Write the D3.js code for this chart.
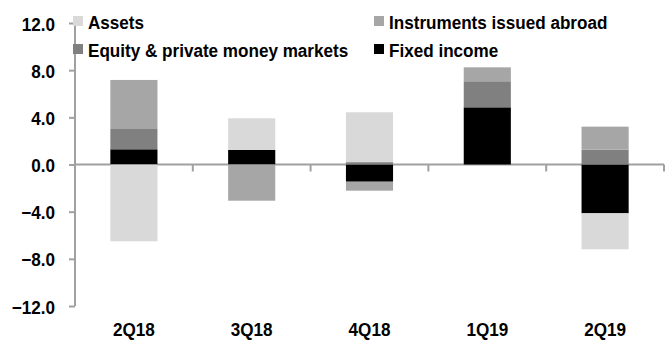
<!DOCTYPE html>
<html>
<head>
<meta charset="utf-8">
<script src="https://cdn.jsdelivr.net/npm/d3@7"></script>
<style>
  html, body { margin: 0; padding: 0; background: #fff; }
  svg { display: block; }
  text { font-family: "Liberation Sans", Arial, sans-serif; font-weight: bold; fill: #000; }
</style>
</head>
<body>
<svg id="chart" width="665" height="341"></svg>
<script>
const categories = ["2Q18", "3Q18", "4Q18", "1Q19", "2Q19"];
const assets      = [-6.51, 2.69, 4.23, 0, -3.05];
const instruments = [4.10, -3.07, -0.76, 1.18, 1.95];
const equity      = [1.78, 0, 0.20, 2.21, 1.26];
const fixedIncome = [1.29, 1.23, -1.46, 4.85, -4.14];
const yTicks = [-12, -8, -4, 0, 4, 8, 12];

const seriesNames = ["Fixed income", "Equity & private money markets", "Instruments issued abroad", "Assets"];
const seriesValues = [fixedIncome, equity, instruments, assets];
const colors = {
  "Assets": "#d9d9d9",
  "Instruments issued abroad": "#a6a6a6",
  "Equity & private money markets": "#808080",
  "Fixed income": "#000000"
};

const table = categories.map((c, i) => {
  const row = { cat: c };
  seriesNames.forEach((s, j) => row[s] = seriesValues[j][i]);
  return row;
});

const svg = d3.select("#chart");
const mLeft = 75, mRight = 664, mTop = 23, mBottom = 306;
const FS = 19, SX = 0.9;

const x = d3.scaleBand().domain(categories).range([mLeft, mRight]).paddingInner(0).paddingOuter(0);
const y = d3.scaleLinear().domain([-12, 12]).range([mBottom, mTop]);

const axisColor = "#a0a0a0";

// zero line with category boundary ticks
const zeroY = y(0);
svg.append("line")
  .attr("x1", mLeft).attr("x2", mRight)
  .attr("y1", zeroY).attr("y2", zeroY)
  .attr("stroke", axisColor).attr("stroke-width", 2);

const boundaries = categories.map(c => x(c) + x.bandwidth());
svg.selectAll(".xtick").data(boundaries).enter().append("line")
  .attr("x1", d => d).attr("x2", d => d)
  .attr("y1", zeroY).attr("y2", zeroY + 7)
  .attr("stroke", axisColor).attr("stroke-width", 2);

// bars
const stack = d3.stack().keys(seriesNames).offset(d3.stackOffsetDiverging).order(d3.stackOrderNone);
const stacked = stack(table);
const barW = x.bandwidth() * 0.4;

svg.append("g").selectAll("g").data(stacked).enter().append("g")
  .attr("fill", d => colors[d.key])
  .selectAll("rect").data(d => d).enter().append("rect")
  .attr("x", d => x(d.data.cat) + (x.bandwidth() - barW) / 2)
  .attr("width", barW)
  .attr("y", d => y(Math.max(d[0], d[1])))
  .attr("height", d => Math.abs(y(d[0]) - y(d[1])));

// y axis
const yAxis = d3.axisLeft(y).tickValues(yTicks).tickFormat(d3.format(".1f")).tickSize(6).tickPadding(14);
const gy = svg.append("g").attr("transform", `translate(${mLeft},0)`).call(yAxis);
gy.select(".domain").attr("stroke", axisColor).attr("stroke-width", 2)
  .attr("d", `M0,${y(12)}V${y(-12)}`);
gy.selectAll(".tick line").attr("stroke", axisColor).attr("stroke-width", 2);
gy.selectAll(".tick text")
  .attr("font-size", FS)
  .attr("font-family", "Liberation Sans, Arial, sans-serif")
  .attr("font-weight", "bold")
  .attr("fill", "#000")
  .attr("x", 0)
  .attr("dy", "0.37em")
  .attr("transform", `translate(-20,0) scale(${SX},1)`);

// x labels
svg.selectAll(".xlabel").data(categories).enter().append("text")
  .attr("transform", d => `translate(${x(d) + x.bandwidth() / 2},336) scale(${SX},1)`)
  .attr("text-anchor", "middle")
  .attr("font-size", FS)
  .text(d => d);

// legend
const legendItems = [
  { name: "Assets", x: 73, y: 16 },
  { name: "Instruments issued abroad", x: 374, y: 16 },
  { name: "Equity & private money markets", x: 73, y: 44 },
  { name: "Fixed income", x: 374, y: 44 }
];
const lg = svg.append("g").selectAll("g").data(legendItems).enter().append("g");
lg.append("rect")
  .attr("x", d => d.x).attr("y", d => d.y)
  .attr("width", 10).attr("height", 10)
  .attr("fill", d => colors[d.name]);
lg.append("text")
  .attr("transform", d => `translate(${d.x + 15},${d.y + 12.5}) scale(${SX},1)`)
  .attr("font-size", FS)
  .text(d => d.name);
</script>
</body>
</html>
